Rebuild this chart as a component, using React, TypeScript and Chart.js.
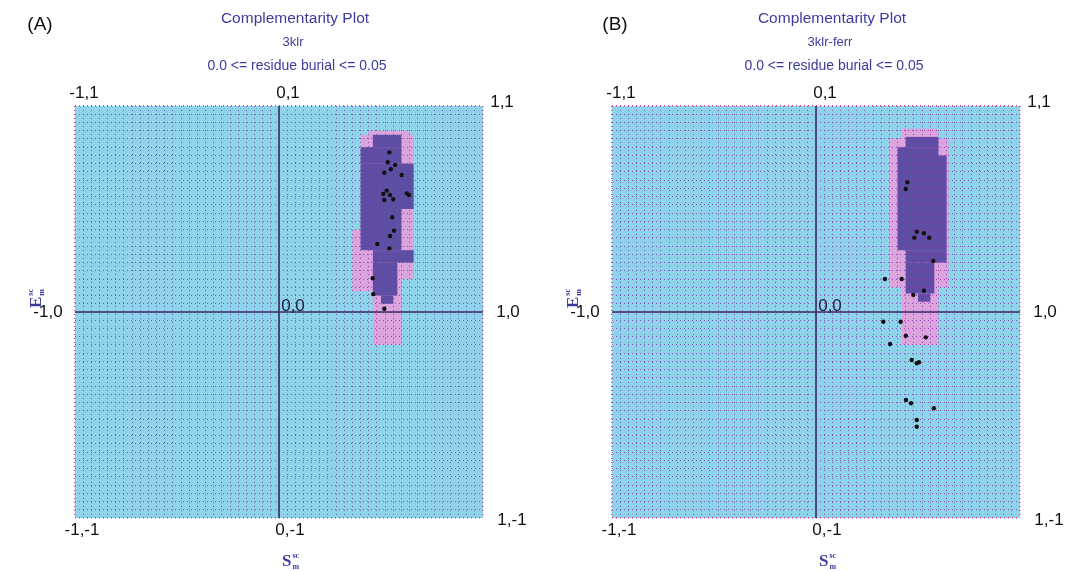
import React, { useEffect, useRef } from "react";
import { Chart, registerables } from "chart.js";

Chart.register(...registerables);

// ---------- data ----------
const PLOT_TITLE = "Complementarity Plot";
const BURIAL_RANGE = "0.0 <= residue burial <= 0.05";
const STRUCTURE_A = "3klr";
const STRUCTURE_B = "3klr-ferr";
const PANEL_A = "(A)";
const PANEL_B = "(B)";
const AXIS_MIN = -1;
const AXIS_MAX = 1;
const GRID_STEP = 0.04;

// residue points, panel A (3klr)
const aX = [0.541, 0.533, 0.569, 0.548, 0.516, 0.601, 0.528, 0.511, 0.544, 0.516, 0.56, 0.626, 0.637, 0.555, 0.564, 0.544, 0.482, 0.541, 0.459, 0.462, 0.516];
const aY = [0.775, 0.727, 0.714, 0.693, 0.676, 0.665, 0.589, 0.573, 0.568, 0.544, 0.547, 0.576, 0.568, 0.46, 0.395, 0.369, 0.33, 0.309, 0.164, 0.087, 0.016];

// residue points, panel B (3klr-ferr)
const bX = [0.448, 0.44, 0.494, 0.529, 0.482, 0.555, 0.575, 0.338, 0.42, 0.529, 0.477, 0.33, 0.415, 0.44, 0.538, 0.363, 0.469, 0.505, 0.494, 0.441, 0.466, 0.578, 0.494, 0.494];
const bY = [0.63, 0.597, 0.39, 0.382, 0.361, 0.361, 0.248, 0.16, 0.16, 0.103, 0.083, -0.047, -0.047, -0.115, -0.123, -0.155, -0.233, -0.244, -0.249, -0.427, -0.443, -0.467, -0.524, -0.557];

// probability contours as [x0, x1, y0, y1] in S,E units
const aOuter = [
  [0.44, 0.64, 0.84, 0.88],
  [0.4, 0.66, 0.4, 0.86],
  [0.36, 0.66, 0.16, 0.4],
  [0.36, 0.6, 0.1, 0.16],
  [0.46, 0.6, -0.16, 0.1],
];
const aInner = [
  [0.46, 0.6, 0.8, 0.86],
  [0.4, 0.6, 0.72, 0.8],
  [0.4, 0.66, 0.5, 0.72],
  [0.4, 0.6, 0.3, 0.5],
  [0.46, 0.66, 0.24, 0.3],
  [0.46, 0.58, 0.08, 0.24],
  [0.5, 0.56, 0.04, 0.08],
];
const bOuter = [
  [0.42, 0.6, 0.84, 0.89],
  [0.36, 0.65, 0.3, 0.84],
  [0.36, 0.65, 0.12, 0.3],
  [0.42, 0.6, -0.16, 0.12],
];
const bInner = [
  [0.44, 0.6, 0.8, 0.85],
  [0.4, 0.6, 0.74, 0.8],
  [0.4, 0.64, 0.3, 0.76],
  [0.44, 0.64, 0.24, 0.3],
  [0.44, 0.58, 0.09, 0.24],
  [0.5, 0.56, 0.05, 0.09],
];

// ---------- drawing ----------
type PanelCfg = {
  xs: number[];
  ys: number[];
  outer: number[][];
  inner: number[][];
  structure: string;
  panelLabel: string;
  panelLabelX: number;
  padL: number;
  padR: number;
};

const LABEL_FONT = '17px "Liberation Sans", Arial, sans-serif';
const BLUE = "#3c3c9e";

function fmt(v: number) {
  return String(v);
}

function makePlugin(cfg: PanelCfg) {
  return {
    id: "complementarity",
    beforeDraw(chart: any) {
      const { ctx, chartArea: ca, scales } = chart;
      const x = scales.x;
      const y = scales.y;
      ctx.save();
      ctx.fillStyle = "#8fd3ea";
      ctx.fillRect(ca.left, ca.top, ca.right - ca.left, ca.bottom - ca.top);
      const fill = (rects: number[][], color: string) => {
        ctx.fillStyle = color;
        rects.forEach(([x0, x1, y0, y1]) => {
          const px0 = x.getPixelForValue(x0);
          const px1 = x.getPixelForValue(x1);
          const py0 = y.getPixelForValue(y1);
          const py1 = y.getPixelForValue(y0);
          ctx.fillRect(px0, py0, px1 - px0, py1 - py0);
        });
      };
      fill(cfg.outer, "#dca4dc");
      fill(cfg.inner, "#5e4ea4");
      ctx.restore();
    },
    beforeDatasetsDraw(chart: any) {
      const { ctx, chartArea: ca, scales } = chart;
      const cx = scales.x.getPixelForValue(0);
      const cy = scales.y.getPixelForValue(0);
      ctx.save();
      ctx.strokeStyle = "#3b2a66";
      ctx.lineWidth = 1.6;
      ctx.beginPath();
      ctx.moveTo(cx, ca.top);
      ctx.lineTo(cx, ca.bottom);
      ctx.moveTo(ca.left, cy);
      ctx.lineTo(ca.right, cy);
      ctx.stroke();
      ctx.restore();
    },
    afterDraw(chart: any) {
      const { ctx, scales } = chart;
      const x = scales.x;
      const y = scales.y;
      const L = x.getPixelForValue(AXIS_MIN);
      const R = x.getPixelForValue(AXIS_MAX);
      const cx = x.getPixelForValue(0);
      const T = y.getPixelForValue(AXIS_MAX);
      const B = y.getPixelForValue(AXIS_MIN);
      const cy = y.getPixelForValue(0);
      ctx.save();
      ctx.textBaseline = "middle";
      ctx.textAlign = "center";

      // titles
      ctx.fillStyle = BLUE;
      ctx.font = '15.5px "Liberation Sans", Arial, sans-serif';
      ctx.fillText(PLOT_TITLE, cx + 16, 19);
      ctx.font = '13px "Liberation Sans", Arial, sans-serif';
      ctx.fillText(cfg.structure, cx + 14, 42);
      ctx.font = '14px "Liberation Sans", Arial, sans-serif';
      ctx.fillText(BURIAL_RANGE, cx + 18, 66);

      // panel letter
      ctx.fillStyle = "#111";
      ctx.font = '19px "Liberation Sans", Arial, sans-serif';
      ctx.fillText(cfg.panelLabel, cfg.panelLabelX, 25);

      // corner labels
      ctx.font = LABEL_FONT;
      const [lo, mid, hi] = [AXIS_MIN, 0, AXIS_MAX];
      const lab = (sx: number, sy: number) => `${fmt(sx)},${fmt(sy)}`;
      ctx.fillText(lab(lo, hi), L + 9, T - 13);
      ctx.fillText(lab(mid, hi), cx + 9, T - 13);
      ctx.fillText(lab(hi, hi), R + 19, T - 4);
      ctx.fillText(lab(lo, mid), L - 27, cy);
      ctx.fillText(lab(hi, mid), R + 25, cy);
      ctx.fillText(lab(lo, lo), L + 7, B + 12);
      ctx.fillText(lab(mid, lo), cx + 11, B + 12);
      ctx.fillText(lab(hi, lo), R + 29, B + 2);
      ctx.fillStyle = "#1f1a3a";
      ctx.fillText(lab(mid, mid), cx + 14, cy - 6);

      // axis titles: S^sc_m (x) and E^sc_m (y)
      ctx.fillStyle = BLUE;
      const drawSym = (letter: string, px: number, py: number) => {
        ctx.textAlign = "left";
        ctx.textBaseline = "alphabetic";
        ctx.font = 'bold 17px "Liberation Serif", "Times New Roman", serif';
        const w = ctx.measureText(letter).width;
        ctx.fillText(letter, px, py);
        ctx.font = 'bold 8px "Liberation Serif", "Times New Roman", serif';
        ctx.fillText("sc", px + w + 1, py - 8);
        ctx.fillText("m", px + w + 1, py + 3);
      };
      drawSym("S", cx + 3, B + 48);
      ctx.save();
      ctx.translate(L - 34, cy - 4);
      ctx.rotate(-Math.PI / 2);
      drawSym("E", 0, 0);
      ctx.restore();
      ctx.restore();
    },
  };
}

function Panel({ left, width, cfg }: { left: number; width: number; cfg: PanelCfg }) {
  const ref = useRef<HTMLCanvasElement>(null);
  useEffect(() => {
    const gridColor = (c: any) =>
      c.tick && Math.abs(c.tick.value) > 0.999 ? "#d6408e" : "rgba(135,40,165,0.75)";
    const gridWidth = (c: any) => (c.tick && Math.abs(c.tick.value) > 0.999 ? 1.5 : 1);
    const axisOpts = (isX: boolean) => ({
      type: "linear",
      min: AXIS_MIN,
      max: AXIS_MAX,
      ticks: { display: false, stepSize: GRID_STEP, maxTicksLimit: 100 },
      grid: { drawTicks: false, color: gridColor, lineWidth: gridWidth },
      border: { display: false, dash: [1, 3] },
      afterFit: (s: any) => {
        if (isX) s.height = 0;
        else s.width = 0;
      },
    });
    const chart = new Chart(ref.current as HTMLCanvasElement, {
      type: "scatter",
      data: {
        datasets: [
          {
            data: cfg.xs.map((v, i) => ({ x: v, y: cfg.ys[i] })),
            pointBackgroundColor: "#111",
            pointBorderColor: "#111",
            pointBorderWidth: 0,
            pointRadius: 2.2,
          },
        ],
      },
      options: {
        responsive: false,
        animation: false,
        devicePixelRatio: 1,
        layout: { padding: { left: cfg.padL, right: cfg.padR, top: 106, bottom: 53 } },
        plugins: {
          legend: { display: false },
          tooltip: { enabled: false },
          title: { display: false },
        },
        scales: {
          x: axisOpts(true),
          y: axisOpts(false),
        },
      } as any,
      plugins: [makePlugin(cfg)],
    });
    return () => chart.destroy();
  }, []);
  return (
    <canvas
      ref={ref}
      width={width}
      height={571}
      style={{ position: "absolute", left, top: 0, width, height: 571 }}
    />
  );
}

export default function App() {
  const cfgA: PanelCfg = {
    xs: aX,
    ys: aY,
    outer: aOuter,
    inner: aInner,
    structure: STRUCTURE_A,
    panelLabel: PANEL_A,
    panelLabelX: 40,
    padL: 75,
    padR: 49,
  };
  const cfgB: PanelCfg = {
    xs: bX,
    ys: bY,
    outer: bOuter,
    inner: bInner,
    structure: STRUCTURE_B,
    panelLabel: PANEL_B,
    panelLabelX: 83,
    padL: 80,
    padR: 45,
  };
  return (
    <div style={{ position: "absolute", left: 0, top: 0, width: 1065, height: 571, background: "#fff" }}>
      <Panel left={0} width={532} cfg={cfgA} />
      <Panel left={532} width={533} cfg={cfgB} />
    </div>
  );
}
